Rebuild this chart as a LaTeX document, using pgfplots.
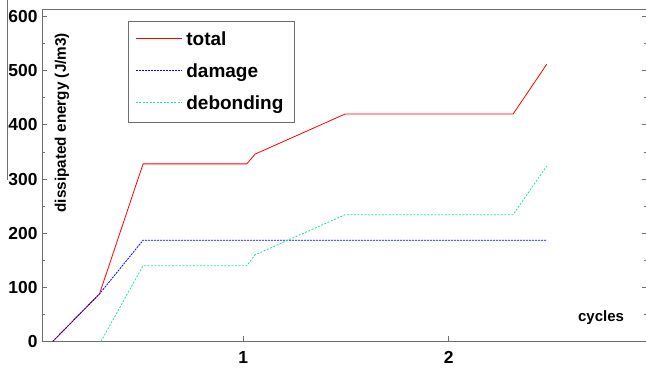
\documentclass[border=0pt]{standalone}
\usepackage{fontspec}
\setmainfont{Liberation Sans}
\usepackage{pgfplots}
\pgfplotsset{compat=1.18}
\definecolor{axgray}{RGB}{110,110,110}
\definecolor{debgreen}{RGB}{30,228,145}
\begin{document}
\begin{tikzpicture}
\begin{axis}[
  scale only axis,
  width=605pt, height=332.5pt,
  xmin=0.02, xmax=2.965,
  ymin=0, ymax=614,
  xtick={1,2}, ytick={0,100,200,300,400,500,600},
  minor ytick={50,150,250,350,450,550},
  xtick pos=bottom, ytick pos=both,
  tick align=inside,
  major tick length=5pt, minor tick length=3.5pt,
  axis line style={axgray, line width=0.9pt},
  every tick/.style={axgray, line width=0.9pt},
  /pgf/number format/assume math mode=true,
  tick label style={font=\fontsize{17.4}{17.4}\selectfont\bfseries, text=black},
  yticklabel style={xshift=-1pt},
  xticklabel style={yshift=-6pt},
  xlabel={cycles},
  ylabel={dissipated energy (J/m3)},
  every axis x label/.style={at={(rel axis cs:0.924,0.072)}, anchor=center, font=\fontsize{15}{15}\selectfont\bfseries},
  every axis y label/.style={at={(rel axis cs:0.033,0.658)}, rotate=90, anchor=center, font=\fontsize{15.3}{15.3}\selectfont\bfseries},
  legend style={at={(rel axis cs:0.142,0.964)}, anchor=north west, draw=axgray, line width=0.9pt, fill=white,
    font=\fontsize{19}{19}\selectfont\bfseries, inner xsep=7pt, inner ysep=4pt, row sep=3pt,
    nodes={inner xsep=4pt, inner ysep=2pt}},
  legend cell align=left,
  legend image code/.code={\path[draw=none, fill=none] (0pt,-15pt) rectangle (46pt,14pt);\draw[#1, line width=1pt] (0pt,0.5pt) -- (46pt,0.5pt);},
  clip=false,
]
\coordinate (o) at (rel axis cs:0,0);
\addplot[red, line width=0.8pt] coordinates {
 (0.072,0) (0.300,88) (0.512,328) (1.017,328) (1.057,346) (1.495,420) (2.313,420) (2.477,512)};
\addlegendentry{total}
\addplot[blue, line width=0.8pt, dash pattern=on 2pt off 1pt] coordinates {
 (0.072,0) (0.300,88) (0.512,187) (2.477,187)};
\addlegendentry{damage}
\addplot[debgreen, line width=0.8pt, dash pattern=on 2pt off 1.5pt] coordinates {
 (0.307,0) (0.512,140) (1.017,140) (1.057,160) (1.495,234) (2.313,234) (2.477,324)};
\addlegendentry{debonding}
\end{axis}
\draw[axgray, line width=0.9pt] ([xshift=-35pt]o) ++(0,370pt-28.5pt) -- ++(0,-180pt);
\pgfresetboundingbox
\path ([xshift=-42pt, yshift=-28.5pt]o) rectangle ++(646pt,370pt);
\end{tikzpicture}
\end{document}
